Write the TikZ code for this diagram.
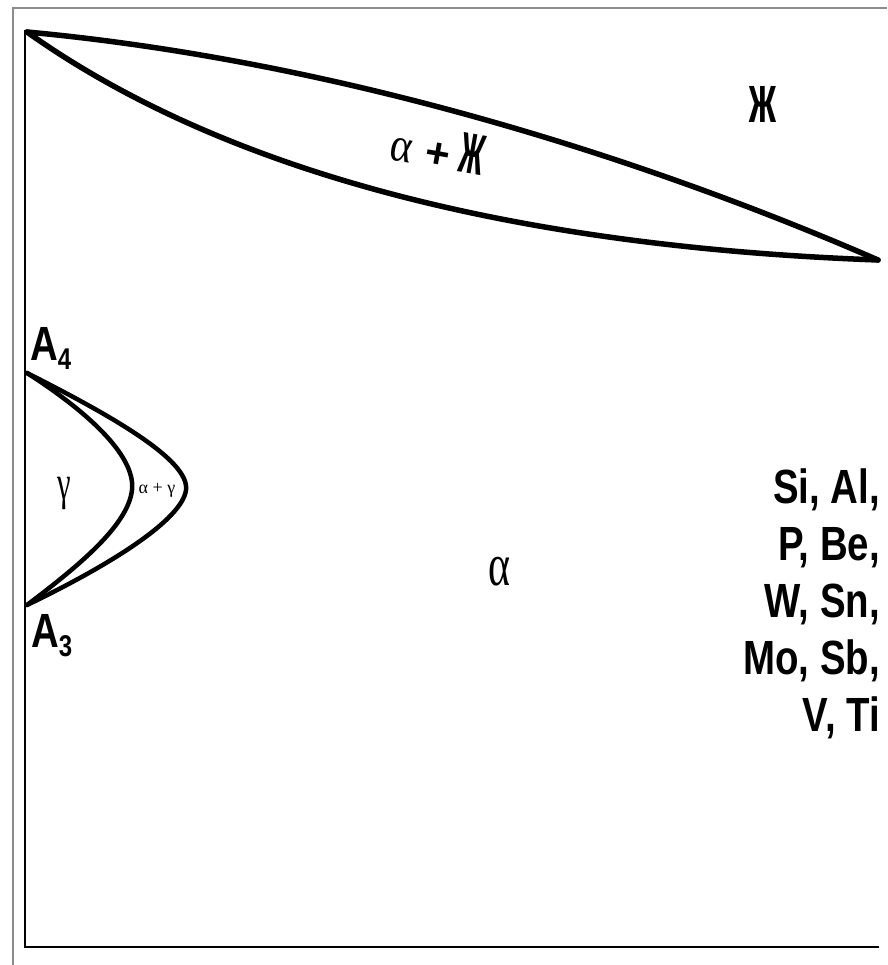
\documentclass[tikz,border=0pt]{standalone}
\usepackage{fontspec}
\setmainfont{Liberation Sans}
\newfontfamily\ser{Liberation Serif}
\newcommand{\cond}[1]{\scalebox{0.8}[1]{#1}}
\begin{document}
\begin{tikzpicture}[x=1pt,y=-1pt,
  frame/.style={draw=black!45,line width=2pt},
  axisline/.style={draw=black,line width=2pt},
  lens/.style={draw=black,line width=5.5pt,line join=round,line cap=round},
  loop/.style={draw=black,line width=4.5pt,line join=round,line cap=round},
  big/.style={font=\fontsize{48}{57}\selectfont\bfseries,inner sep=0pt},
  lbl/.style={inner sep=0pt}]
\useasboundingbox (0,0) rectangle (887,965);
\fill[white] (0,0) rectangle (887,965);
% gray frame
\draw[frame] (13,965) -- (13,8) -- (887,8);
% axes
\coordinate (O) at (25,947);
\coordinate (TL) at (25,30);
\coordinate (BR) at (879,947);
\draw[axisline] (TL) -- (O) -- (BR);
% lens
\coordinate (L) at (27,32);
\coordinate (R) at (878,260);
\draw[lens] (L) .. controls (350,62) and (660,165) .. (R);
\draw[lens] (L) .. controls (200,155) and (470,245) .. (R);
% gamma loop
\coordinate (P4) at (27,373);
\coordinate (P3) at (27,605);
\coordinate (To) at (186,490);
\coordinate (Ti) at (132,490);
\draw[loop] (P4) .. controls (110,415) and (190,460) .. (To) .. controls (182,520) and (110,565) .. (P3);
\draw[loop] (P4) .. controls (85,410) and (136,455) .. (Ti) .. controls (128,525) and (80,565) .. (P3);
% labels
\node[lbl,font=\fontsize{65}{65}\selectfont\bfseries] (liq) at (763,104) {\scalebox{0.58}[1.05]{ж}};
\node[lbl,rotate=-10] (aliq) at (438,148) {{\ser\fontsize{44}{44}\selectfont\scalebox{0.95}[1.1]{α}}\hspace{14pt}{\fontsize{42}{42}\selectfont\bfseries +}\hspace{10pt}{\fontsize{60}{60}\selectfont\bfseries\scalebox{0.55}[1.25]{ж}}};
\node[lbl,font=\ser\fontsize{40}{40}\selectfont] (alpha) at (499,572) {\scalebox{1.05}[1.5]{α}};
\node[lbl,font=\ser\fontsize{36}{36}\selectfont] (gamma) at (64,494) {\scalebox{0.85}[1.35]{γ}};
\node[lbl,font=\ser\fontsize{18}{18}\selectfont] (ag) at (157,490) {α + γ};
\node[lbl,big,anchor=base west] (A4) at (30,360) {\cond{A\raisebox{-9pt}{\fontsize{30}{30}\selectfont 4}}};
\node[lbl,big,anchor=base west] (A3) at (31,647) {\cond{A\raisebox{-9pt}{\fontsize{30}{30}\selectfont 3}}};
\node[lbl,anchor=north east] (elems) at (880,463) {\fontsize{48}{57}\selectfont\bfseries
\begin{tabular}{@{}r@{}}
\cond{Si, Al,}\\
\cond{P, Be,}\\
\cond{W, Sn,}\\
\cond{Mo, Sb,}\\
\cond{V, Ti}
\end{tabular}};
\end{tikzpicture}
\end{document}
